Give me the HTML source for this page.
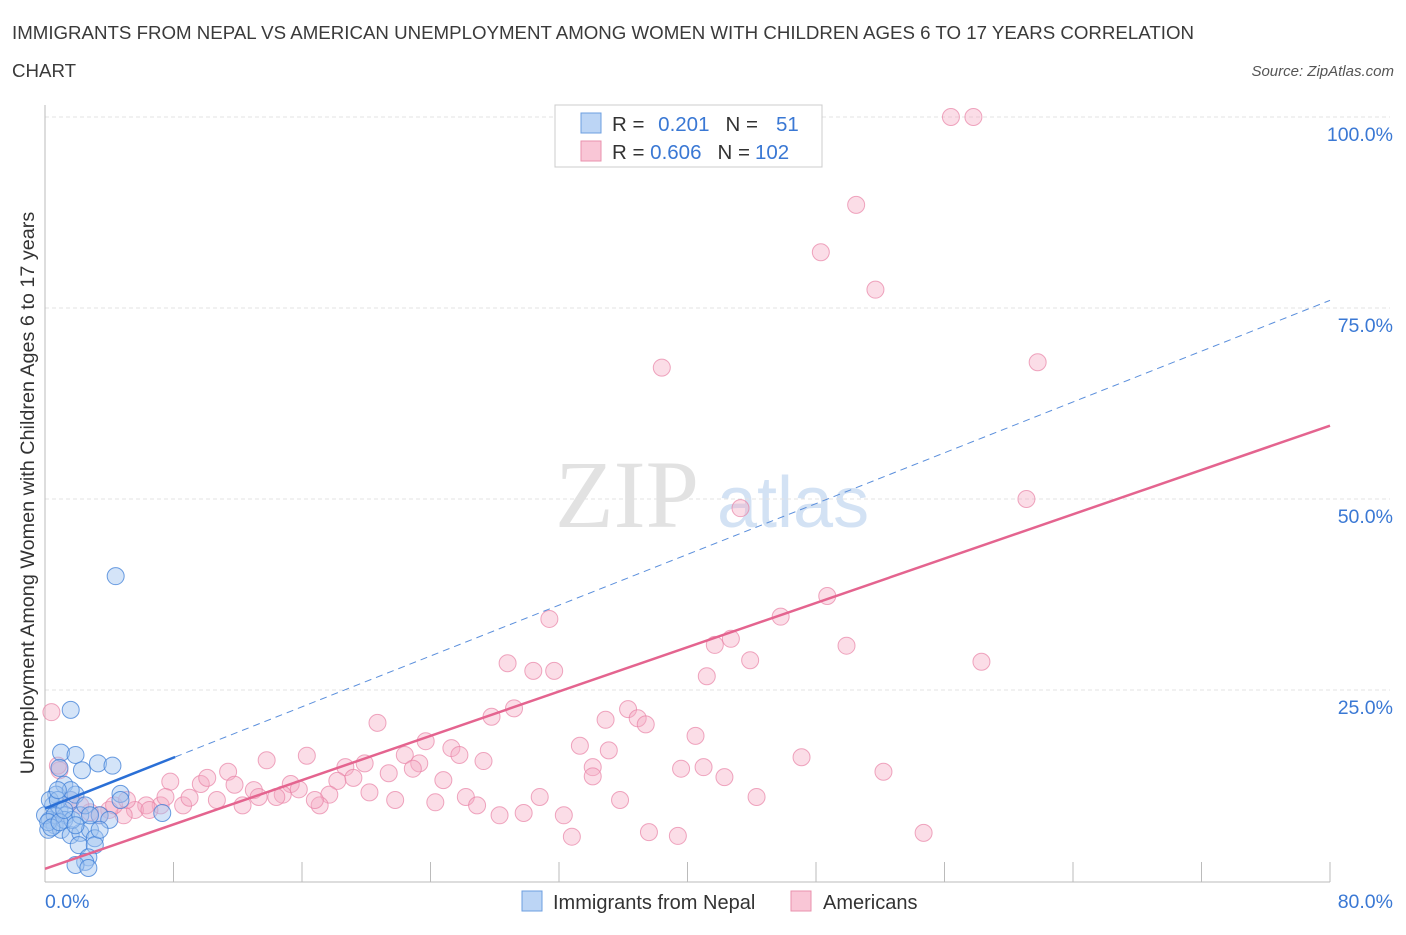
<!DOCTYPE html>
<html><head><meta charset="utf-8">
<style>
body{margin:0;background:#fff;font-family:"Liberation Sans",sans-serif;}
#wrap{position:relative;width:1406px;height:930px;}
</style></head>
<body>
<div id="wrap">
<svg id="svg" width="1406" height="930">
<text x="12" y="39" font-size="18.7" fill="#3a3a3a">IMMIGRANTS FROM NEPAL VS AMERICAN UNEMPLOYMENT AMONG WOMEN WITH CHILDREN AGES 6 TO 17 YEARS CORRELATION</text>
<text x="12" y="77" font-size="18.7" fill="#3a3a3a">CHART</text>
<text x="1394" y="76" font-size="15" fill="#555" font-style="italic" text-anchor="end">Source: ZipAtlas.com</text>
<text x="555" y="527" font-size="96" fill="#e2e2e2" font-family="Liberation Serif,serif">ZIP</text>
<text x="717" y="527" font-size="72" fill="#d3e2f4">atlas</text>
<text transform="translate(34,493) rotate(-90)" font-size="19.8" fill="#333" text-anchor="middle">Unemployment Among Women with Children Ages 6 to 17 years</text>
<g id="grid"></g><g id="marks"></g>
<rect x="555" y="105" width="267" height="62" fill="#fff" stroke="#ccc"/>
<rect x="581" y="113" width="20" height="20" fill="#bcd5f5" stroke="#6d9fe0"/>
<rect x="581" y="141" width="20" height="20" fill="#f9c6d6" stroke="#e991ad"/>
<text x="612" y="131" font-size="20.5" fill="#333">R = <tspan fill="#3a78d4" dx="8">0.201</tspan><tspan dx="16">N =</tspan><tspan fill="#3a78d4" dx="18">51</tspan></text>
<text x="612" y="159" font-size="20.5" fill="#333">R = <tspan fill="#3a78d4">0.606</tspan><tspan dx="16">N =</tspan><tspan fill="#3a78d4" dx="5">102</tspan></text>
<rect x="522" y="891" width="20" height="20" fill="#bcd5f5" stroke="#6d9fe0"/>
<text x="553" y="909" font-size="20" fill="#333">Immigrants from Nepal</text>
<rect x="791" y="891" width="20" height="20" fill="#f9c6d6" stroke="#e991ad"/>
<text x="823" y="909" font-size="20" fill="#333">Americans</text>
</svg></div>
<script>
const xTickLabels=["0.0%","80.0%"];
const yTicks=[25,50,75,100];
const yTickLabels=["25.0%","50.0%","75.0%","100.0%"];
const nepalX=[4.4,1.6,1.0,1.9,3.3,4.2,2.3,0.9,4.7,1.2,1.6,1.9,0.7,0.5,0.9,1.3,0.3,0.6,0.2,1.0,1.6,2.2,2.8,3.1,2.1,3.1,2.7,2.5,1.9,2.7,7.3,4.7,3.4,4.0,0,0.3,0.8,1.2,1.7,2.2,0.6,0.2,0.4,0.9,1.2,2.5,1.9,2.8,1.6,3.4,0.8];
const nepalY=[39.9,22.4,16.8,16.5,15.4,15.1,14.5,14.8,11.4,12.6,10.6,11.3,11.3,9.9,9.3,8.6,8.0,7.3,6.7,6.7,6.0,6.3,6.7,5.6,4.7,4.7,3.1,2.5,2.1,1.7,8.9,10.6,8.6,8.0,8.6,10.6,10.6,8.0,8.0,8.6,8.6,7.7,7.0,7.7,9.3,9.9,7.3,8.6,11.9,6.7,11.9];
const amerX=[0.4,56.4,57.8,50.5,48.3,51.7,38.4,61.8,61.1,43.3,48.7,45.8,31.4,42.7,41.7,49.9,43.9,58.3,28.8,30.4,31.7,41.2,29.2,36.3,27.8,20.7,34.9,36.9,37.4,40.5,23.7,33.3,35.1,25.3,25.8,16.3,13.8,22.4,27.3,23.3,19.9,47.1,18.7,34.1,39.6,41.0,52.2,22.9,21.4,42.3,34.1,19.2,18.2,24.8,7.8,11.4,11.8,9.7,10.1,13.0,15.3,15.8,14.8,13.3,14.4,17.7,20.2,21.8,24.3,26.2,26.9,30.8,29.8,28.3,32.3,35.8,44.3,17.1,16.8,10.7,12.3,8.6,7.2,6.3,5.6,4.9,4.0,3.4,2.8,2.2,1.6,0.9,0.8,32.8,37.6,39.4,54.7,4.3,5.1,6.5,9.0,7.5];
const amerY=[22.1,100,100,88.5,82.3,77.4,67.2,67.9,50,48.8,37.3,34.6,34.3,31.7,30.9,30.8,28.9,28.7,28.5,27.5,27.5,26.8,22.6,22.5,21.5,20.7,21.1,21.3,20.5,19.0,18.3,17.7,17.1,17.4,16.5,16.4,15.8,16.5,15.7,15.4,15.4,16.2,14.9,14.9,14.7,14.9,14.3,14.7,14.1,13.6,13.7,13.5,13.1,13.2,13.0,14.3,12.6,12.7,13.5,11.9,12.7,12.0,11.3,11.0,11.0,11.3,11.6,10.6,10.3,11.0,9.9,11.0,8.9,8.6,8.6,10.6,11.0,9.9,10.6,10.6,9.9,9.9,9.9,9.9,9.3,8.6,9.3,8.6,9.0,9.9,10.6,14.5,15.1,5.8,6.4,5.9,6.3,9.9,10.6,9.3,10.9,11.0];
const nepalTrend=[9.5,76];
const amerTrend=[1.6,59.6];
const NS="http://www.w3.org/2000/svg";
const X=v=>45+v/80*1285, Y=v=>881-v/25*191;
function mk(p,t,a){const e=document.createElementNS(NS,t);for(const k in a)e.setAttribute(k,a[k]);p.appendChild(e);return e;}
const grid=document.getElementById('grid'),marks=document.getElementById('marks');
yTicks.forEach((t,i)=>{
 const g=mk(grid,'line',{x1:45,x2:1390,y1:Y(t),y2:Y(t),stroke:'#e3e3e3','stroke-dasharray':'4,3'});
 
 
 const l=mk(grid,'text',{x:1393,y:Y(t)+24,'font-size':19.5,fill:'#3a78d4','text-anchor':'end'});
 l.textContent=yTickLabels[i];
 
 
});
let ax=mk(grid,'line',{x1:45,x2:45,y1:105,y2:882,stroke:'#bbb'});


ax=mk(grid,'line',{x1:45,x2:1330,y1:882,y2:882,stroke:'#bbb'});


for(let i=1;i<=10;i++){const t=mk(grid,'line',{x1:X(i*8),x2:X(i*8),y1:862,y2:882,stroke:'#bbb'});
 
 }
[[0,'start',45],[1,'end',1393]].forEach(([i,a,x])=>{const l=mk(grid,'text',{x:x,y:908,'font-size':19.5,fill:'#3a78d4','text-anchor':a});l.textContent=xTickLabels[i];
 
 });
amerX.forEach((x,i)=>{const c=mk(marks,'circle',{cx:X(x),cy:Y(amerY[i]),r:8.5,fill:'rgba(246,170,195,0.4)',stroke:'rgba(232,130,165,0.7)'});
 
 });
nepalX.forEach((x,i)=>{const c=mk(marks,'circle',{cx:X(x),cy:Y(nepalY[i]),r:8.5,fill:'rgba(160,196,240,0.45)',stroke:'rgba(60,125,215,0.75)'});
 
 });
const ny=x=>nepalTrend[0]+(nepalTrend[1]-nepalTrend[0])*x/80;
let l=mk(marks,'line',{x1:X(8.1),y1:Y(ny(8.1)),x2:X(80),y2:Y(ny(80)),stroke:'#5b8fdc','stroke-width':1,'stroke-dasharray':'7,5'});


l=mk(marks,'line',{x1:X(0),y1:Y(ny(0)),x2:X(8.1),y2:Y(ny(8.1)),stroke:'#2a6fd6','stroke-width':2.5});


l=mk(marks,'line',{x1:X(0),y1:Y(amerTrend[0]),x2:X(80),y2:Y(amerTrend[1]),stroke:'#e4648f','stroke-width':2.5});


</script>
</body></html>
